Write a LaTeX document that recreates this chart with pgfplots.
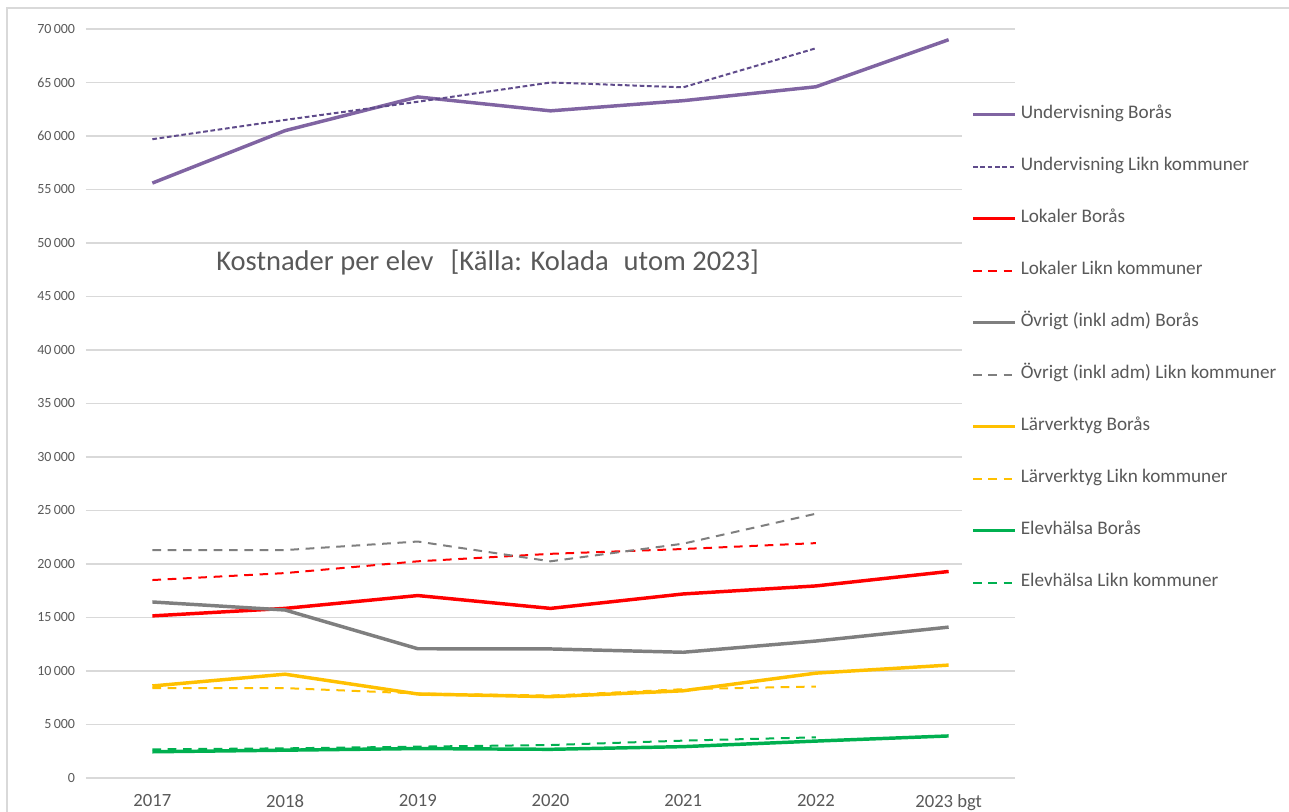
\documentclass[border=0pt]{standalone}
\usepackage{fontspec}
\setmainfont{Carlito}
\usepackage{pgfplots}
\pgfplotsset{compat=1.18}

\definecolor{txt}{HTML}{595959}
\definecolor{gridc}{HTML}{D9D9D9}
\definecolor{purp}{HTML}{8064A2}
\definecolor{purpd}{HTML}{5F4B8B}
\definecolor{redc}{HTML}{FF0000}
\definecolor{grayc}{HTML}{7F7F7F}
\definecolor{yell}{HTML}{FFC000}
\definecolor{gren}{HTML}{00B050}

\begin{document}
\begin{tikzpicture}[x=1pt,y=1pt]
\useasboundingbox (0,0) rectangle (966.75,609);
\draw[gridc, line width=0.8pt] (5.25,0) -- (5.25,603) -- (966.75,603);
\begin{axis}[
    at={(64.5pt,25.5pt)}, anchor=south west,
    scale only axis,
    width=696.75pt, height=561.75pt,
    xmin=-0.5, xmax=6.5,
    ymin=0, ymax=70000,
    axis line style={draw=none},
    xtick={0,...,6},
    xticklabels={2017,2018,2019,2020,2021,2022,2023 bgt},
    ytick={0,5000,...,70000},
    major tick length=0pt,
    ymajorgrids,
    grid style={gridc, line width=1pt},
    /pgf/number format/assume math mode=true,
    scaled y ticks=false,
    yticklabel={\pgfmathprintnumber[fixed,precision=0,1000 sep={\,}]{\tick}},
    yticklabel style={font=\fontsize{10.5pt}{12pt}\selectfont, text=txt, inner sep=0pt, xshift=-8pt},
    xticklabel style={font=\fontsize{14pt}{16pt}\selectfont, text=txt, inner sep=0pt, anchor=north, yshift=-12pt},
    legend cell align=left,
    legend image code/.code={\draw[#1] (0pt,0pt) -- (31.5pt,0pt); \path (34.5pt,0pt);},
    legend style={at={(0.943,0.92)}, anchor=north west, fill=white, draw=none,
        inner xsep=6.75pt, inner ysep=13pt, row sep=27pt,
        font=\fontsize{14.4pt}{16pt}\selectfont, text=txt,
        nodes={inner sep=0pt, text height=9pt, text depth=3pt}},
    clip=false,
]
% Undervisning
\addplot[purp, line width=2.6pt] coordinates {
    (0,55600) (1,60500) (2,63650) (3,62350) (4,63300) (5,64600) (6,69000)};
\addlegendentry{Undervisning Borås}
\addplot[purpd, line width=1.5pt, dash pattern=on 3.5pt off 2pt] coordinates {
    (0,59700) (1,61500) (2,63200) (3,65000) (4,64550) (5,68200)};
\addlegendentry{Undervisning Likn kommuner}
% Lokaler
\addplot[redc, line width=2.6pt] coordinates {
    (0,15150) (1,15850) (2,17050) (3,15850) (4,17200) (5,17950) (6,19300)};
\addlegendentry{Lokaler Borås}
\addplot[redc, line width=1.5pt, dash pattern=on 6.5pt off 5pt] coordinates {
    (0,18500) (1,19150) (2,20250) (3,20950) (4,21400) (5,21950)};
\addlegendentry{Lokaler Likn kommuner}
% Övrigt
\addplot[grayc, line width=2.6pt] coordinates {
    (0,16450) (1,15700) (2,12080) (3,12060) (4,11750) (5,12800) (6,14100)};
\addlegendentry{Övrigt (inkl adm) Borås}
\addplot[grayc, line width=1.5pt, dash pattern=on 6.5pt off 5pt] coordinates {
    (0,21300) (1,21300) (2,22100) (3,20250) (4,21900) (5,24700)};
\addlegendentry{Övrigt (inkl adm) Likn kommuner}
% Lärverktyg
\addplot[yell, line width=2.6pt] coordinates {
    (0,8600) (1,9700) (2,7850) (3,7600) (4,8150) (5,9800) (6,10550)};
\addlegendentry{Lärverktyg Borås}
\addplot[yell, line width=1.5pt, dash pattern=on 6.5pt off 5pt] coordinates {
    (0,8400) (1,8400) (2,7900) (3,7700) (4,8300) (5,8550)};
\addlegendentry{Lärverktyg Likn kommuner}
% Elevhälsa
\addplot[gren, line width=2.6pt] coordinates {
    (0,2450) (1,2600) (2,2750) (3,2680) (4,2930) (5,3450) (6,3930)};
\addlegendentry{Elevhälsa Borås}
\addplot[gren, line width=1.5pt, dash pattern=on 6.5pt off 5pt] coordinates {
    (0,2680) (1,2770) (2,2930) (3,3080) (4,3490) (5,3800)};
\addlegendentry{Elevhälsa Likn kommuner}

\node[anchor=west, text=txt, font=\fontsize{21.4pt}{24pt}\selectfont, inner sep=0pt]
    at (axis cs:0.48,48200) {Kostnader per elev\hspace{0.6em}[Källa: Kolada\hspace{0.3em} utom 2023]};
\end{axis}
\end{tikzpicture}
\end{document}
